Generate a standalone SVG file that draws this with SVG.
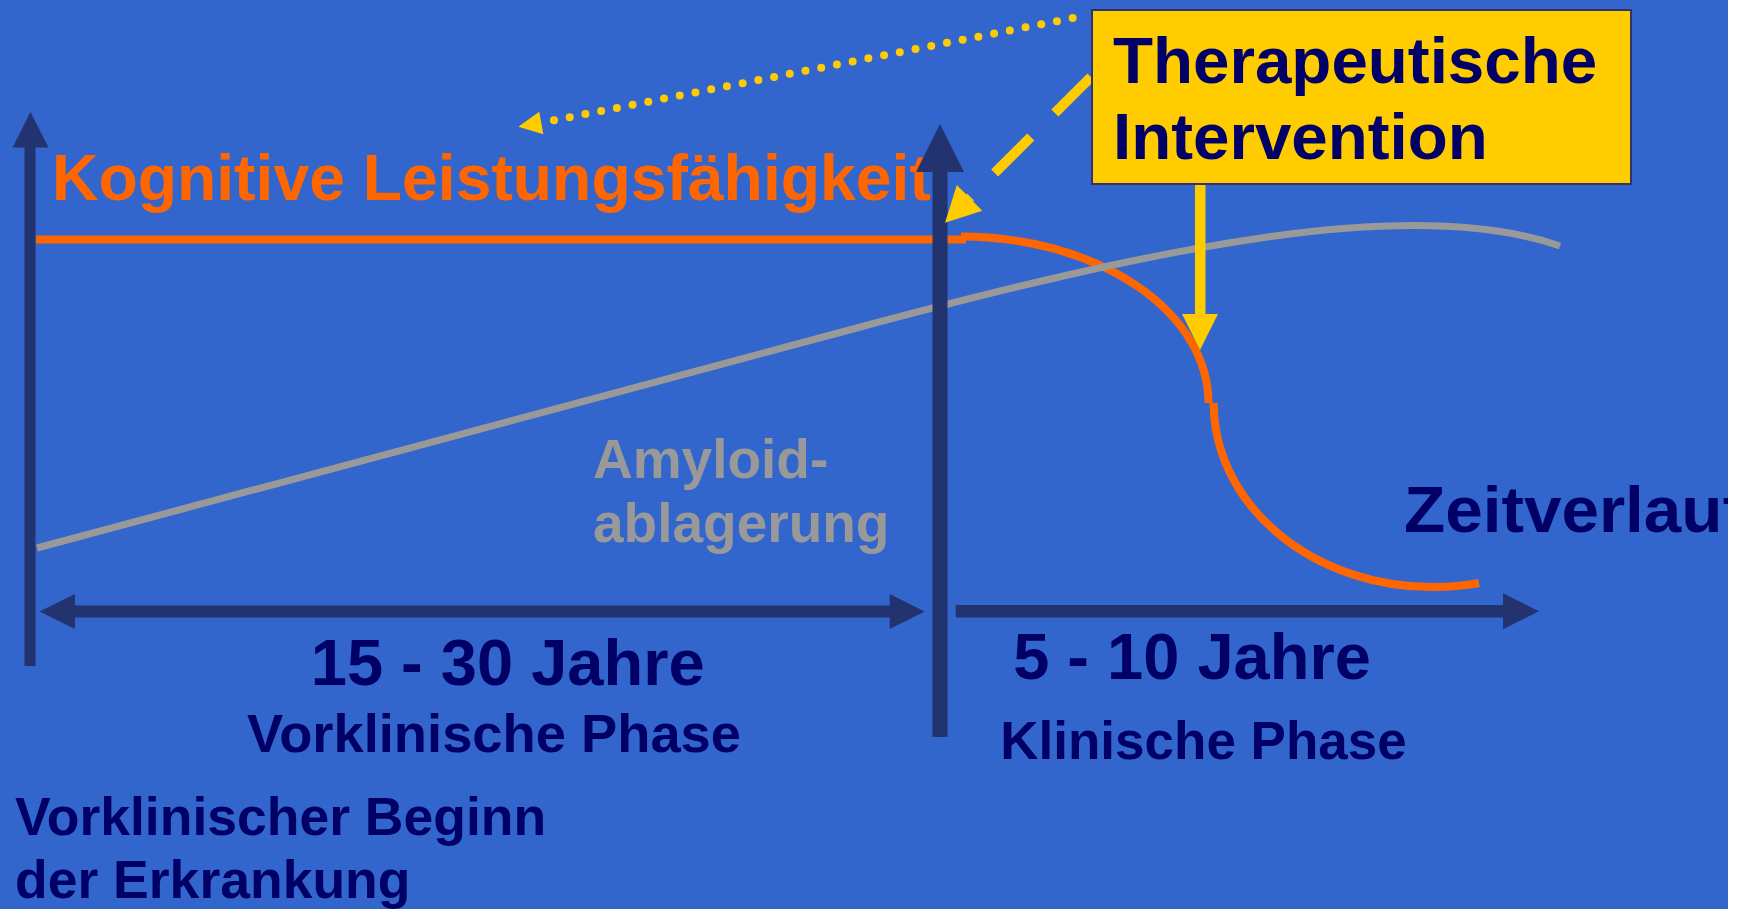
<svg xmlns="http://www.w3.org/2000/svg" width="1748" height="909" viewBox="0 0 1748 909">
<style>
.t{font-family:"Liberation Sans",Arial,Helvetica,sans-serif;font-weight:bold}
.navy{fill:#000066}
.axis{fill:#22336F}
.yel{fill:#FFCC00}
</style>
<rect x="0" y="0" width="1748" height="909" fill="#3366CC"/>
<g id="label-kognitive">
<text class="t" x="52" y="200" font-size="64.3" fill="#FF6600">Kognitive Leistungsfähigkeit</text>
</g>
<g id="label-amyloid">
<text class="t" x="593" y="478" font-size="55" fill="#999999">Amyloid-</text>
<text class="t" x="593" y="542" font-size="55" fill="#999999">ablagerung</text>
</g>
<g id="connectors">
<path d="M36,239.5 L966,239.5" stroke="#FF6600" stroke-width="8" fill="none"/>
<path d="M961,236.5 A247.5,166.5 0 0 1 1208.5,403" stroke="#FF6600" stroke-width="8" fill="none"/>
<path d="M1213.7,403 A218.3,184 0 0 0 1432,587 Q1458,587 1479,583" stroke="#FF6600" stroke-width="8" fill="none"/>
<path d="M37,548 L853,329 C1153,248.6 1410,193.5 1560,246" stroke="#999999" stroke-width="7" fill="none"/>
<rect class="axis" x="24.5" y="146" width="11" height="520"/>
<polygon class="axis" points="30.5,112 48.5,147.5 12.5,147.5"/>
<rect class="axis" x="932.5" y="170" width="15" height="567"/>
<polygon class="axis" points="940,124 964,172 916,172"/>
<rect class="axis" x="74" y="605.5" width="817" height="12"/>
<polygon class="axis" points="39.5,611.5 75,594 75,629"/>
<polygon class="axis" points="924.7,611.5 889.7,594 889.7,629"/>
<rect class="axis" x="955.7" y="605" width="548" height="12.5"/>
<polygon class="axis" points="1539,611.3 1503,593.3 1503,629.3"/>
<path d="M554,120.3 L1088.3,15" stroke="#FFCC00" stroke-width="8" stroke-linecap="round" stroke-dasharray="0 16.02" fill="none"/>
<polygon class="yel" points="518.3,126.7 539.3,111.7 543.3,134.3"/>
<path d="M1091,77 L969.5,198" stroke="#FFCC00" stroke-width="10" stroke-dasharray="51 34" fill="none"/>
<polygon class="yel" points="956.8,185 982.3,210.7 945,222.7"/>
<rect class="yel" x="1195" y="184" width="10.5" height="131"/>
<polygon class="yel" points="1182,314 1218,314 1200,350"/>
</g>
<g id="node-therapie">
<rect x="1092" y="10" width="539" height="174" fill="#FFCC00" stroke="#333366" stroke-width="2"/>
<text class="t navy" x="1113" y="83" font-size="65.5">Therapeutische</text>
<text class="t navy" x="1113" y="159" font-size="65.5">Intervention</text>
</g>
<g id="label-zeitverlauf">
<text class="t navy" x="1404" y="532" font-size="64" textLength="341" lengthAdjust="spacingAndGlyphs">Zeitverlauf</text>
</g>
<g id="label-vorklinisch">
<text class="t navy" x="507.7" y="685" font-size="65" text-anchor="middle">15 - 30 Jahre</text>
<text class="t navy" x="494" y="752" font-size="53" text-anchor="middle" textLength="494" lengthAdjust="spacingAndGlyphs">Vorklinische Phase</text>
</g>
<g id="label-klinisch">
<text class="t navy" x="1192" y="679" font-size="65" text-anchor="middle">5 - 10 Jahre</text>
<text class="t navy" x="1203.5" y="759" font-size="53" text-anchor="middle">Klinische Phase</text>
</g>
<g id="label-beginn">
<text class="t navy" x="15" y="835" font-size="53.5">Vorklinischer Beginn</text>
<text class="t navy" x="15" y="898" font-size="53.5">der Erkrankung</text>
</g>
<rect x="1728" y="0" width="20" height="909" fill="#FFFFFF"/>
</svg>
